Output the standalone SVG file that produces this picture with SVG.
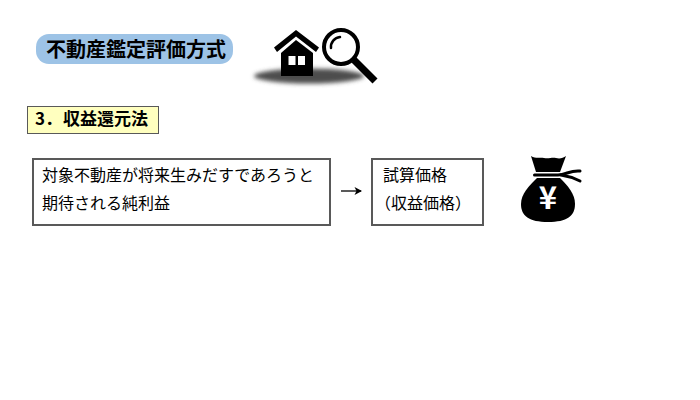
<svg xmlns="http://www.w3.org/2000/svg" width="700" height="400" viewBox="0 0 700 400">
<style>
text { font-family: "Noto Sans CJK JP", "Noto Sans CJK SC", sans-serif; fill: #000; }
.body { font-size: 16px; }
.box { fill: #fff; stroke: #595959; stroke-width: 2; }
.ink { fill: #000; }
.tie { fill: none; stroke: #000; stroke-width: 3; stroke-linecap: round; }
</style>
<defs>
<filter id="soft" x="-20%" y="-60%" width="140%" height="220%"><feGaussianBlur stdDeviation="2.2"/></filter>
</defs>
<rect width="700" height="400" fill="#fff"/>
<g id="title">
<rect x="36" y="34" width="197" height="30" rx="13" fill="#9dc3e6"/>
<text x="46" y="57" font-size="20" font-weight="700">不動産鑑定評価方式</text>
</g>
<g id="house-search">
<ellipse cx="309" cy="76" rx="55" ry="7.500" fill="#4d4d4d" filter="url(#soft)"/>
<path class="ink" d="M296 40L313 53V76H281V53Z"/>
<path class="ink" d="M274 47.500L296 30L319 47.500L316 52L296 36.500L277 52Z"/>
<rect x="288.500" y="56" width="7" height="9" fill="#fff"/>
<rect x="298" y="56" width="7" height="9" fill="#fff"/>
<circle cx="341" cy="47" r="17" fill="#fff" stroke="#000" stroke-width="4"/>
<path d="M331 48a10 10 0 0 1 9-11" fill="none" stroke="#000" stroke-width="2.500" stroke-linecap="round"/>
<path d="M354 60L375 81" stroke="#000" stroke-width="7"/>
</g>
<g id="method">
<rect x="27.500" y="106.500" width="131" height="27" fill="#ffffbf" stroke="#595959"/>
<text x="35" y="125" font-size="17" font-weight="700">3．<tspan x="63">収益還元法</tspan></text>
</g>
<g id="income">
<rect class="box" x="33" y="159" width="297" height="66"/>
<text class="body" x="42" y="181">対象不動産が将来生みだすであろうと</text>
<text class="body" x="42" y="209">期待される純利益</text>
</g>
<g id="connectors">
<path d="M341 191H361" stroke="#000" stroke-width="1.300" fill="none"/>
<path d="M354.500 187L362 191L354.500 195L356.500 191Z" fill="#000"/>
</g>
<g id="price">
<rect class="box" x="372" y="159" width="111" height="66"/>
<text class="body" x="383" y="181">試算価格</text>
<text class="body" x="375" y="209">（収益価格）</text>
</g>
<g id="money-bag">
<path class="ink" d="M531 156C536 159 540 157 544 158C549 159 552 157 556 158C560 159 563 158 566 156L560 172H536Z"/>
<path class="tie" d="M534.500 175H558C566 175 570 170 580 171"/>
<path class="tie" d="M561 175C568 176 572 177 580 181"/>
<path class="ink" d="M537 178H560C568 186 575 194 575 204C575 216 567 222 548 222C529 222 521 216 521 204C521 194 529 186 537 178Z"/>
<text x="548" y="209" font-size="31" font-weight="700" text-anchor="middle" style="fill:#fff">¥</text>
</g>
</svg>
